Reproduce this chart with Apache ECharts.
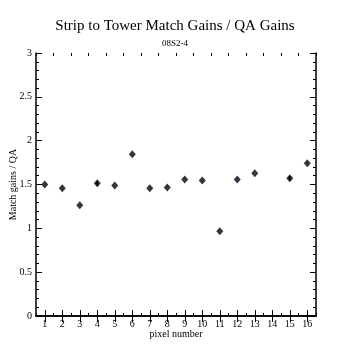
<!DOCTYPE html>
<html>
<head>
<meta charset="utf-8">
<script src="https://cdn.jsdelivr.net/npm/echarts@6/dist/echarts.min.js"></script>
<style>html,body{margin:0;padding:0;background:#fff}#c{width:350px;height:350px}</style>
</head>
<body>
<div id="c"></div>
<script>
var pixels = ['1','2','3','4','5','6','7','8','9','10','11','12','13','14','15','16'];
var ratios = [1.50, 1.456, 1.262, 1.513, 1.49, 1.844, 1.456, 1.467, 1.558, 1.547, 0.966, 1.558, 1.627, null, 1.57, 1.741];
var errors = [0, 0, 0, 0.025, 0, 0, 0, 0, 0, 0, 0, 0, 0, 0, 0.025, 0];
var yTicks = [0, 0.5, 1, 1.5, 2, 2.5, 3];

var font = 'Liberation Serif';
var ink = '#000';
var mark = '#02020f';

var scatterData = [];
var errData = [];
ratios.forEach(function (v, i) {
  if (v !== null) {
    scatterData.push([i, v]);
    if (errors[i] > 0) errData.push([i, v - errors[i], v + errors[i]]);
  }
});

var chart = echarts.init(document.getElementById('c'), null, {renderer: 'canvas'});
var catAxisBase = {
  type: 'category', data: pixels, boundaryGap: true,
  axisLine: {show: true, lineStyle: {color: ink, width: 1.5}},
  splitLine: {show: false}
};
chart.setOption({
  animation: false,
  backgroundColor: '#fff',
  title: [
    {text: 'Strip to Tower Match Gains / QA Gains', left: 'center', top: 14,
     textStyle: {fontFamily: font, fontSize: 15, fontWeight: 'normal', color: ink}},
    {text: '08S2-4', left: 'center', top: 34,
     textStyle: {fontFamily: font, fontSize: 9, fontWeight: 'normal', color: ink}}
  ],
  grid: {left: 36, right: 34, top: 53, bottom: 34, containLabel: false, outerBoundsMode: 'none'},
  xAxis: [
    Object.assign({}, catAxisBase, {
      position: 'bottom',
      name: 'pixel number', nameLocation: 'middle', nameGap: 13, nameMoveOverlap: false,
      nameTextStyle: {fontFamily: font, fontSize: 10, color: ink},
      axisTick: {show: true, inside: true, alignWithLabel: true, length: 6, lineStyle: {color: ink, width: 1}},
      axisLabel: {show: true, fontFamily: font, fontSize: 10, color: ink, margin: 3, interval: 0}
    }),
    Object.assign({}, catAxisBase, {
      position: 'top',
      axisTick: {show: true, inside: true, alignWithLabel: true, length: 6, lineStyle: {color: ink, width: 1}},
      axisLabel: {show: false}
    }),
    Object.assign({}, catAxisBase, {
      position: 'bottom',
      axisLine: {show: false},
      axisTick: {show: true, inside: true, alignWithLabel: false, length: 3, interval: 0, lineStyle: {color: ink, width: 1}},
      axisLabel: {show: false}
    }),
    Object.assign({}, catAxisBase, {
      position: 'top',
      axisLine: {show: false},
      axisTick: {show: true, inside: true, alignWithLabel: false, length: 3, interval: 0, lineStyle: {color: ink, width: 1}},
      axisLabel: {show: false}
    })
  ],
  yAxis: [
    {
      type: 'value', min: yTicks[0], max: yTicks[yTicks.length - 1], interval: 0.5, position: 'left',
      name: 'Match gains / QA', nameLocation: 'middle', nameGap: 18, nameRotate: 90, nameMoveOverlap: false,
      nameTextStyle: {fontFamily: font, fontSize: 10, color: ink},
      axisLine: {show: true, lineStyle: {color: ink, width: 1.5}},
      axisTick: {show: true, inside: true, length: 6, lineStyle: {color: ink, width: 1}},
      minorTick: {show: true, splitNumber: 5, length: 3, lineStyle: {color: ink, width: 1}},
      splitLine: {show: false},
      axisLabel: {fontFamily: font, fontSize: 10, color: ink, margin: 4}
    },
    {
      type: 'value', min: yTicks[0], max: yTicks[yTicks.length - 1], interval: 0.5, position: 'right',
      axisLine: {show: true, lineStyle: {color: ink, width: 1.5}},
      axisTick: {show: true, inside: true, length: 6, lineStyle: {color: ink, width: 1}},
      minorTick: {show: true, splitNumber: 5, length: 3, lineStyle: {color: ink, width: 1}},
      splitLine: {show: false},
      axisLabel: {show: false}
    }
  ],
  series: [
    {
      type: 'scatter', xAxisIndex: 0, yAxisIndex: 0,
      data: scatterData,
      symbol: 'diamond', symbolSize: [7, 8],
      itemStyle: {color: mark}
    },
    {
      type: 'custom', xAxisIndex: 0, yAxisIndex: 0,
      data: errData,
      renderItem: function (params, api) {
        var x = api.value(0);
        var lo = api.coord([x, api.value(1)]);
        var hi = api.coord([x, api.value(2)]);
        return {
          type: 'line',
          shape: {x1: lo[0], y1: lo[1], x2: hi[0], y2: hi[1]},
          style: {stroke: mark, lineWidth: 2}
        };
      }
    }
  ]
});
</script>
</body>
</html>
